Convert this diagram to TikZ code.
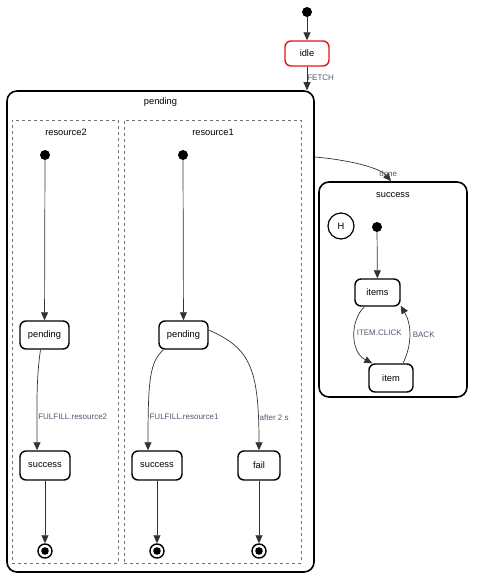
\documentclass[tikz,border=0pt]{standalone}
\usepackage{fontspec}
\setmainfont{Liberation Sans}
\usetikzlibrary{arrows.meta}
\definecolor{lbl}{RGB}{80,88,110}
\definecolor{edgec}{RGB}{50,50,50}
\definecolor{idlered}{RGB}{230,20,20}
\tikzset{
  st/.style={draw=black, line width=1.4pt, rounded corners=6pt, fill=white, minimum height=28pt, inner sep=0pt, font=\fontsize{9.3}{11}\selectfont},
  compound/.style={draw=black, line width=1.6pt, rounded corners=10pt, inner sep=0pt},
  region/.style={draw=black!55, dashed, line width=0.9pt, inner sep=0pt},
  initdot/.style={circle, fill=black, inner sep=0pt, minimum size=10pt},
  finalst/.style={circle, draw=black, line width=1.4pt, fill=white, inner sep=0pt, minimum size=14pt, path picture={\fill[black] (path picture bounding box.center) circle (3.8pt);}},
  hist/.style={circle, draw=black, line width=1.2pt, inner sep=0pt, minimum size=26pt, font=\fontsize{9.3}{11}\selectfont},
  tr/.style={draw=edgec, line width=0.7pt, -{Triangle[length=8pt,width=7pt]}},
  elbl/.style={text=lbl, font=\fontsize{8}{10}\selectfont, inner sep=1pt},
  title/.style={font=\fontsize{9.3}{11}\selectfont, inner sep=0pt}
}
\begin{document}
\begin{tikzpicture}[x=1pt,y=-1pt]
\useasboundingbox (0,0) rectangle (478,579);
% top
\node[initdot] (i0) at (307,12) {};
\node[st, draw=idlered, minimum width=44pt, minimum height=25pt] (idle) at (307,53.5) {idle};
% pending compound
\node[compound, minimum width=307pt, minimum height=481pt] (pendS) at (160.5,331.5) {};
\node[title] (pendT) at (160.5,102) {pending};
\node[region, minimum width=106pt, minimum height=443pt] (r2) at (65,341.5) {};
\node[title] (r2T) at (66,132) {resource2};
\node[region, minimum width=177pt, minimum height=443pt] (r1) at (212.5,341.5) {};
\node[title] (r1T) at (213,132) {resource1};
% resource2
\node[initdot] (i2) at (45,155) {};
\node[st, minimum width=49pt] (p2) at (44.5,335) {pending};
\node[st, minimum width=50pt, minimum height=29pt] (s2) at (45,465.5) {success};
\node[finalst] (f2) at (45,551) {};
% resource1
\node[initdot] (i1) at (183,155) {};
\node[st, minimum width=49pt] (p1) at (183.5,335) {pending};
\node[st, minimum width=50pt, minimum height=29pt] (s1) at (157,465.5) {success};
\node[st, minimum width=42pt, minimum height=29pt] (fl) at (259,465.5) {fail};
\node[finalst] (f1a) at (157,551) {};
\node[finalst] (f1b) at (259,551) {};
% success compound
\node[compound, minimum width=148pt, minimum height=215pt] (succS) at (393,289.5) {};
\node[title] (succT) at (393,195) {success};
\node[hist] (h) at (341,226) {H};
\node[initdot] (i3) at (377,227) {};
\node[st, minimum width=45pt, minimum height=27pt] (items) at (377.5,292.5) {items};
\node[st, minimum width=44pt, minimum height=28pt] (item) at (391,378) {item};
% transitions
\draw[tr] (i0) -- (idle);
\draw[tr] (idle.south) -- (idle.south |- pendS.north) node[elbl, pos=0.45, anchor=west, xshift=-1pt] {FETCH};
\draw[tr] (pendS.north east |- 0,157) .. controls (350,160) and (380,168) .. (succS.north -| 391,0) node[elbl, pos=0.88, above, yshift=-1pt, xshift=2pt] {done};
\draw[tr] (i2) -- (p2);
\draw[tr] ([xshift=-4pt]p2.south) .. controls (36,380) and (37,410) .. ([xshift=-8pt]s2.north) node[elbl, pos=0.7, anchor=west, xshift=0pt] {FULFILL.resource2};
\draw[tr] (s2) -- (f2);
\draw[tr] (i1) -- (p1);
\draw[tr] ([xshift=-20pt]p1.south) .. controls (150,362) and (148,378) .. ([xshift=-9pt]s1.north) node[elbl, pos=0.82, anchor=west, xshift=0pt] {FULFILL.resource1};
\draw[tr] ([yshift=5pt]p1.east) .. controls (250,348) and (259,368) .. (fl.north) node[elbl, pos=0.85, anchor=west, xshift=0pt] {after 2 s};
\draw[tr] (s1) -- (f1a);
\draw[tr] (fl) -- (f1b);
\draw[tr] (i3) -- (items);
\draw[tr] ([xshift=-13pt]items.south) .. controls (350,320) and (350,352) .. ([shift={(4pt,0pt)}]item.north west) node[elbl, pos=0.45, anchor=west, xshift=1pt] {ITEM.CLICK};
\draw[tr] ([xshift=12pt]item.north) .. controls (412,345) and (412,325) .. ([shift={(0pt,1pt)}]items.south east) node[elbl, pos=0.5, anchor=west, xshift=2pt] {BACK};
\end{tikzpicture}
\end{document}
